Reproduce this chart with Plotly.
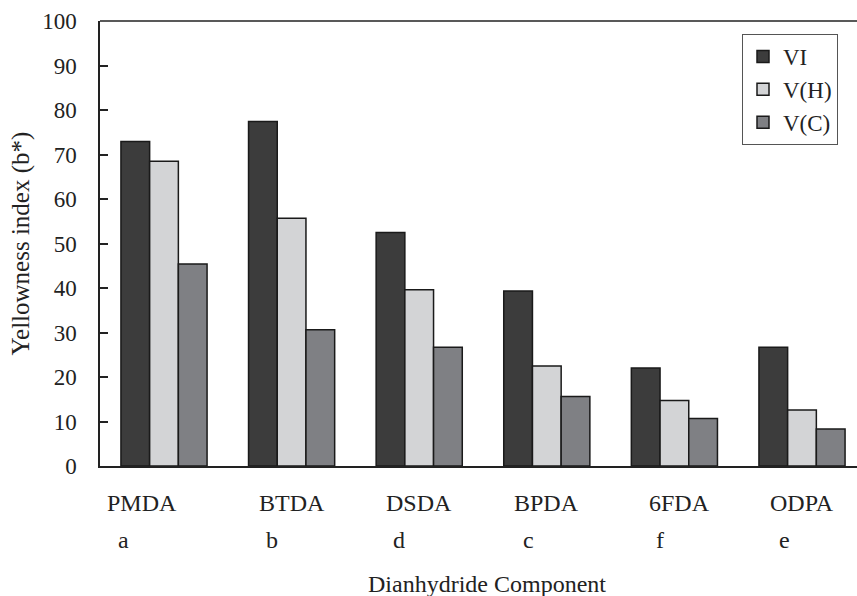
import plotly.graph_objects as go

categories = ["PMDA", "BTDA", "DSDA", "BPDA", "6FDA", "ODPA"]
letters = ["a", "b", "d", "c", "f", "e"]
series_names = ["VI", "V(H)", "V(C)"]
vi = [72.9, 77.4, 52.5, 39.3, 22.0, 26.7]
vh = [68.5, 55.7, 39.6, 22.5, 14.7, 12.6]
vc = [45.4, 30.6, 26.7, 15.6, 10.7, 8.3]
y_ticks = [0, 10, 20, 30, 40, 50, 60, 70, 80, 90, 100]

colors = ["#3c3c3c", "#d3d4d6", "#7f8084"]
FONT = "Liberation Serif"
FS = 23
TXT = "#222222"

# label horizontal offsets (in category units) relative to group centres
name_offsets = [-0.17, 0.0, 0.0, 0.0, 0.04, 0.0]
letter_offsets = [-0.32, -0.15, -0.16, -0.14, -0.11, -0.14]

xpos = list(range(len(categories)))

fig = go.Figure()
for i, (name, vals) in enumerate(zip(series_names, [vi, vh, vc])):
    fig.add_trace(go.Bar(
        x=xpos, y=vals, name=name, legendgroup=name,
        marker=dict(color=colors[i], line=dict(color="#1a1a1a", width=1.5)),
    ))

annotations = []
for i, cat in enumerate(categories):
    annotations.append(dict(
        x=i + name_offsets[i], y=0, xref="x", yref="paper",
        text=cat, showarrow=False, xanchor="center", yanchor="middle",
        yshift=-37, font=dict(family=FONT, size=24, color=TXT)))
    annotations.append(dict(
        x=i + letter_offsets[i], y=0, xref="x", yref="paper",
        text=letters[i], showarrow=False, xanchor="center", yanchor="middle",
        yshift=-74, font=dict(family=FONT, size=24, color=TXT)))

annotations.append(dict(
    x=(486.5 - 100) / 757, y=0, xref="paper", yref="paper",
    text="Dianhydride Component", showarrow=False, xanchor="center",
    yanchor="middle", yshift=-118, font=dict(family=FONT, size=24, color=TXT)))
annotations.append(dict(
    x=(20 - 100) / 757, y=0.5, xref="paper", yref="paper",
    text="Yellowness index (b*)", showarrow=False, textangle=-90,
    xanchor="center", yanchor="middle",
    font=dict(family=FONT, size=25, color=TXT)))

fig.update_layout(
    width=857, height=596,
    margin=dict(l=100, r=0, t=21, b=130, autoexpand=False),
    paper_bgcolor="white", plot_bgcolor="white",
    barmode="group", bargap=0.325, bargroupgap=0,
    font=dict(family=FONT, size=FS, color=TXT),
    showlegend=True,
    legend=dict(
        x=(838 - 100) / 757, y=(466 - 34) / 445, xanchor="right", yanchor="top",
        bordercolor="#555555", borderwidth=1, bgcolor="white",
        font=dict(family=FONT, size=FS, color=TXT),
        tracegroupgap=8, traceorder="normal",
    ),
    xaxis=dict(
        range=[(100 - 164) / 127.6, (857 - 164) / 127.6],
        showticklabels=False, ticks="", showgrid=False, zeroline=False,
        showline=True, linecolor="#222222", linewidth=1.5,
    ),
    yaxis=dict(
        range=[0, 100], tickvals=y_ticks, ticks="inside", ticklen=8,
        tickwidth=1.5, tickcolor="#222222", showgrid=False, zeroline=False,
        showline=True, linecolor="#222222", linewidth=1.5,
        ticklabelstandoff=17,
        tickfont=dict(family=FONT, size=FS, color=TXT),
    ),
    annotations=annotations,
    shapes=[dict(type="line", xref="paper", yref="paper", x0=0, x1=1, y0=1, y1=1,
                 line=dict(color="#222222", width=1.5))],
)

fig.write_html("out.html", config={"displayModeBar": False})

# remove default page margin so the figure sits at the window's top-left corner
with open("out.html", "r", encoding="utf-8") as f:
    html = f.read()
html = html.replace("<head>", "<head><style>html,body{margin:0;padding:0;overflow:hidden;}</style>", 1)
with open("out.html", "w", encoding="utf-8") as f:
    f.write(html)
